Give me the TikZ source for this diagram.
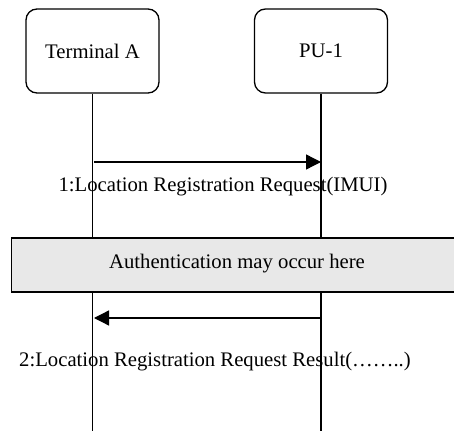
\documentclass[tikz,border=0pt]{standalone}
\usepackage{fontspec}
\setmainfont{Liberation Serif}
\usetikzlibrary{arrows.meta}
\definecolor{notegrey}{RGB}{232,232,232}
\begin{document}
\begin{tikzpicture}[x=1pt,y=-1pt,
  font=\fontsize{20.7}{24}\selectfont,
  actor/.style={draw,line width=1.3pt,rounded corners=11pt,minimum width=133pt,minimum height=84pt,inner sep=0pt},
  lifeline/.style={line width=1.3pt},
  msg/.style={line width=1.3pt,-{Triangle[length=15pt,width=15pt]}},
  note/.style={draw,line width=1.3pt,fill=notegrey,minimum height=54pt,inner sep=0pt,anchor=west}]
  \useasboundingbox (0,0) rectangle (454,430);
  % participants
  \node[actor] (ta) at (92.5,51) {Terminal A};
  \node[actor] (pu) at (321,51) {PU-1};
  % lifeline ends
  \coordinate (taend) at (92.5,432);
  \coordinate (puend) at (321,432);
  \draw[lifeline] (ta.south) -- (taend);
  \draw[lifeline] (pu.south) -- (puend);
  % message 1
  \coordinate (m1s) at (94,162);
  \coordinate (m1e) at (321,162);
  \draw[msg] (m1s) -- (m1e);
  \node (l1) at (223,187) {1:Location Registration Request(IMUI)};
  % authentication note
  \node[note,minimum width=450pt] (auth) at (11,265) {};
  \node (authtext) at (237,264) {Authentication may occur here};
  % message 2
  \coordinate (m2s) at (321,318);
  \coordinate (m2e) at (94,318);
  \draw[msg] (m2s) -- (m2e);
  \node (l2) at (215,362) {2:Location Registration Request Result(……..)};
\end{tikzpicture}
\end{document}
